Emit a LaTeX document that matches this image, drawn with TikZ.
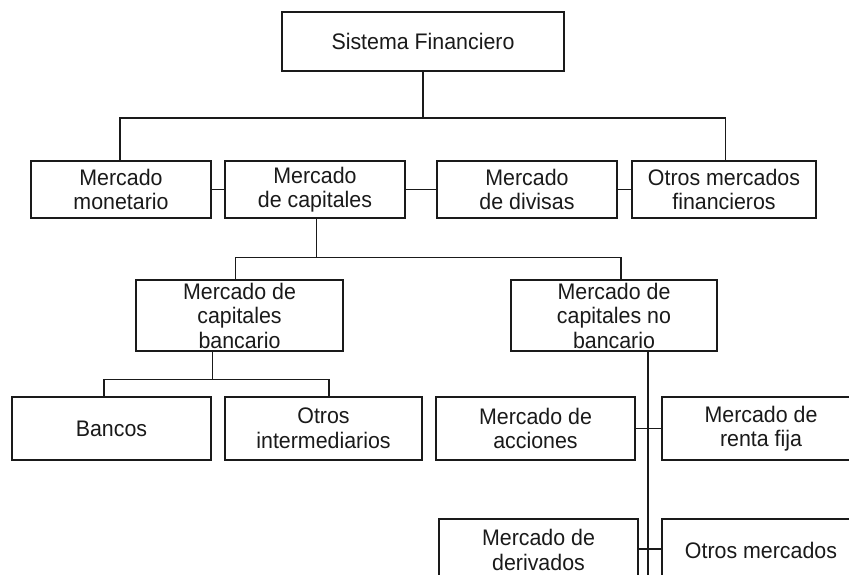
\documentclass[tikz,border=0pt]{standalone}
\usepackage{fontspec}
\setmainfont{Liberation Sans}[FakeStretch=0.95]
\definecolor{ink}{HTML}{1A1A1A}
\begin{document}
\begin{tikzpicture}[x=1pt,y=-1pt,
  box/.style={draw=ink, line width=1.2pt, align=center, inner sep=0pt,
    font=\fontsize{22.5}{24.5}\selectfont, text=ink},
  conn/.style={draw=ink, line width=1.2pt}]
\useasboundingbox (0,0) rectangle (849,575);
\clip (0,0) rectangle (849,575);
\fill[white] (0,0) rectangle (849,575);
% level 1
\node[box, minimum width=282pt, minimum height=59pt] (sf) at (423,41.5) {Sistema Financiero};
% level 2
\node[box, minimum width=180pt, minimum height=57pt] (mon) at (121,189.5) {Mercado\\monetario};
\node[box, minimum width=180pt, minimum height=57pt] (cap) at (315,189.5) {Mercado\\de capitales};
\node[box, minimum width=180pt, minimum height=57pt] (div) at (527,189.5) {Mercado\\de divisas};
\node[box, minimum width=184pt, minimum height=57pt] (otr) at (724,189.5) {Otros mercados\\financieros};
% level 3
\node[box, minimum width=207pt, minimum height=71pt] (banc) at (239.5,315.5) {Mercado de\\capitales\\bancario};
\node[box, minimum width=206pt, minimum height=71pt] (nob) at (614,315.5) {Mercado de\\capitales no\\bancario};
% level 4
\node[box, minimum width=199pt, minimum height=63pt] (bancos) at (111.5,428.5) {Bancos};
\node[box, minimum width=197pt, minimum height=63pt] (oint) at (323.5,428.5) {Otros\\intermediarios};
\node[box, minimum width=199pt, minimum height=63pt] (acc) at (535.5,428.5) {Mercado de\\acciones};
\node[box, minimum width=198pt, minimum height=63pt] (ren) at (761,428.5) {Mercado de\\renta fija};
% level 5
\node[box, minimum width=199pt, minimum height=62pt] (der) at (538.5,550) {Mercado de\\derivados};
\node[box, minimum width=198pt, minimum height=62pt] (om) at (761,550) {Otros mercados};
% connectors
\draw[conn] (sf.south) -- ++(0,46.5) coordinate (b1);
\draw[conn] ([xshift=-1pt]mon.north) |- (b1) -| ([xshift=1.5pt]otr.north);
\draw[conn] (mon.east) -- (cap.west);
\draw[conn] (cap.east) -- (div.west);
\draw[conn] (div.east) -- (otr.west);
\draw[conn] ([xshift=1.5pt]cap.south) -- ++(0,39) coordinate (b2);
\draw[conn] ([xshift=-4pt]banc.north) |- (b2) -| ([xshift=7pt]nob.north);
\draw[conn] ([xshift=-27pt]banc.south) -- ++(0,28) coordinate (b3);
\draw[conn] ([xshift=-7.5pt]bancos.north) |- (b3) -| ([xshift=5.5pt]oint.north);
\draw[conn] ([xshift=34pt]nob.south) -- ++(0,260) coordinate (spine);
\draw[conn] (acc.east) -- (ren.west);
\draw[conn] ([yshift=1pt]der.east) -- ([yshift=1pt]om.west);
\end{tikzpicture}
\end{document}
